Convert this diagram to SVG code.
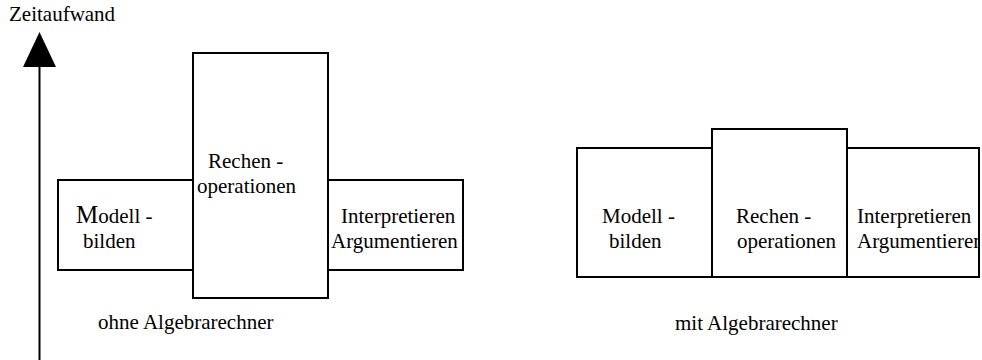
<svg xmlns="http://www.w3.org/2000/svg" width="982" height="360" viewBox="0 0 982 360">
<style>
.box{fill:#fff;stroke:#000;stroke-width:2}
.axis{stroke:#000;stroke-width:2;fill:none}
</style>
<defs>
<clipPath id="clipR"><rect x="847" y="148" width="132" height="129"/></clipPath>
</defs>
<rect width="982" height="360" fill="#fff"/>
<g id="axis">
<line class="axis" x1="39.5" y1="66" x2="39.5" y2="360"/>
<polygon points="39.5,32 23,67 56,67" fill="#000"/>
<text x="9" y="21" style="font-family:'Liberation Serif',serif;font-size:21px">Zeitaufwand</text>
</g>
<g id="left-modell">
<rect class="box" x="58" y="180" width="135" height="90"/>
<text x="76" y="223" style="font-family:'Liberation Serif',serif;font-size:21px"><tspan style="font-size:25px">M</tspan>odell -</text>
<text x="83" y="248" style="font-family:'Liberation Serif',serif;font-size:21px">bilden</text>
</g>
<g id="left-rechen">
<rect class="box" x="193" y="53" width="135" height="245"/>
<text x="208" y="168" style="font-family:'Liberation Serif',serif;font-size:21px">Rechen -</text>
<text x="197" y="193" style="font-family:'Liberation Serif',serif;font-size:21px">operationen</text>
</g>
<g id="left-interp">
<rect class="box" x="328" y="180" width="135" height="90"/>
<text x="341" y="223" style="font-family:'Liberation Serif',serif;font-size:21px">Interpretieren</text>
<text x="331" y="248" style="font-family:'Liberation Serif',serif;font-size:21px">Argumentieren</text>
</g>
<g id="label-ohne">
<text x="98" y="329" style="font-family:'Liberation Serif',serif;font-size:21px">ohne Algebrarechner</text>
</g>
<g id="right-modell">
<rect class="box" x="577" y="148" width="135" height="129"/>
<text x="602" y="223" style="font-family:'Liberation Serif',serif;font-size:21px">Modell -</text>
<text x="609" y="248" style="font-family:'Liberation Serif',serif;font-size:21px">bilden</text>
</g>
<g id="right-rechen">
<rect class="box" x="712" y="129" width="135" height="148"/>
<text x="736" y="223" style="font-family:'Liberation Serif',serif;font-size:21px">Rechen -</text>
<text x="737" y="248" style="font-family:'Liberation Serif',serif;font-size:21px">operationen</text>
</g>
<g id="right-interp">
<rect class="box" x="847" y="148" width="132" height="129"/>
<g clip-path="url(#clipR)">
<text x="857" y="223" style="font-family:'Liberation Serif',serif;font-size:21px">Interpretieren</text>
<text x="857" y="248" style="font-family:'Liberation Serif',serif;font-size:21px">Argumentieren</text>
</g>
<rect x="847" y="148" width="132" height="129" fill="none" stroke="#000" stroke-width="2"/>
</g>
<g id="label-mit">
<text x="675" y="330" style="font-family:'Liberation Serif',serif;font-size:21px">mit Algebrarechner</text>
</g>
<g id="connectors"></g>
</svg>
